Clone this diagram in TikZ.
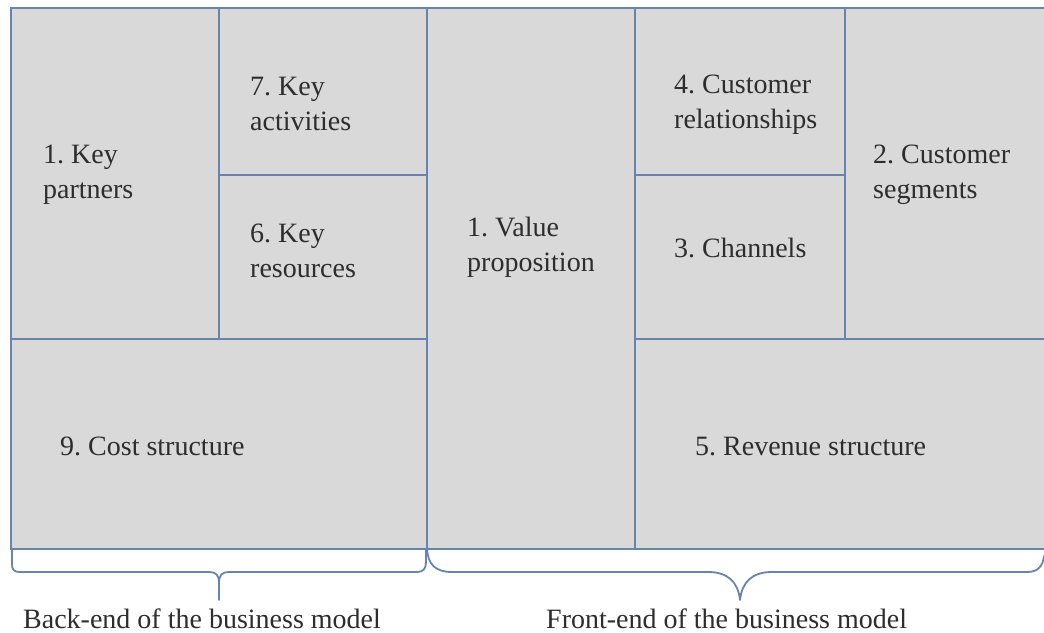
\documentclass[tikz,border=0pt]{standalone}
\usepackage{fontspec}
\setmainfont{Liberation Serif}
\definecolor{edge}{RGB}{104,131,176}
\definecolor{cell}{RGB}{217,217,217}
\definecolor{ink}{RGB}{45,45,45}
\begin{document}
\frenchspacing
\begin{tikzpicture}[x=1pt,y=-1pt,
  block/.style={draw=edge, fill=cell, line width=1.8pt, rectangle,
    inner sep=0pt, outer sep=0pt, anchor=north west},
  txt/.style={anchor=base west, align=left, text=ink, inner sep=0pt,
    font=\fontsize{28}{35}\selectfont},
  brace/.style={draw=edge, line width=1.8pt, line join=round, line cap=round}]
\useasboundingbox (0,0) rectangle (1044,632);
\fill[white] (0,0) rectangle (1044,632);

% building blocks of the canvas
\node[block, minimum width=208pt, minimum height=331pt] (kp)   at (11,8)    {};
\node[block, minimum width=208pt, minimum height=167pt] (ka)   at (219,8)   {};
\node[block, minimum width=208pt, minimum height=164pt] (kr)   at (219,175) {};
\node[block, minimum width=208pt, minimum height=541pt] (vp)   at (427,8)   {};
\node[block, minimum width=210pt, minimum height=167pt] (cr)   at (635,8)   {};
\node[block, minimum width=210pt, minimum height=164pt] (ch)   at (635,175) {};
\node[block, minimum width=203pt, minimum height=331pt] (cs)   at (845,8)   {};
\node[block, minimum width=416pt, minimum height=210pt] (cost) at (11,339)  {};
\node[block, minimum width=413pt, minimum height=210pt] (rev)  at (635,339) {};

% block titles (base anchor sits on the last line)
\node[txt] (kpT)   at (43,198)  {1. Key\\partners};
\node[txt] (kaT)   at (250,130) {7. Key\\activities};
\node[txt] (krT)   at (250,277) {6. Key\\resources};
\node[txt] (vpT)   at (467,271) {1. Value\\proposition};
\node[txt] (crT)   at (674,128) {4. Customer\\relationships};
\node[txt] (chT)   at (674,257) {3. Channels};
\node[txt] (csT)   at (873,198) {2. Customer\\segments};
\node[txt] (costT) at (60,455)  {9. Cost structure};
\node[txt] (revT)  at (695,455) {5. Revenue structure};

% braces under the canvas
\coordinate (lb0) at (12,549);
\coordinate (ltip) at (219,600);
\coordinate (lb1) at (426,549);
\coordinate (rb0) at (427,549);
\coordinate (rtip) at (740,600);
\coordinate (rb1) at (1044,556);

\draw[brace] (lb0) -- (12,564) .. controls (12,570) and (14,572) .. (20,572)
  -- (209,572) .. controls (216,572) and (219,575) .. (219,583) -- (ltip)
  -- (219,583) .. controls (219,575) and (222,572) .. (229,572)
  -- (417,572) .. controls (423,572) and (426,569) .. (426,562) -- (lb1);
\draw[brace] (rb0) .. controls (428,564) and (435,572) .. (452,572)
  -- (708,572) .. controls (728,572) and (738,582) .. (rtip)
  .. controls (742,582) and (752,572) .. (772,572)
  -- (1027,572) .. controls (1038,572) and (1043,566) .. (rb1);

% captions
\node[txt] (backT)  at (23,628)  {Back-end of the business model};
\node[txt] (frontT) at (546,628) {Front-end of the business model};
\end{tikzpicture}
\end{document}
